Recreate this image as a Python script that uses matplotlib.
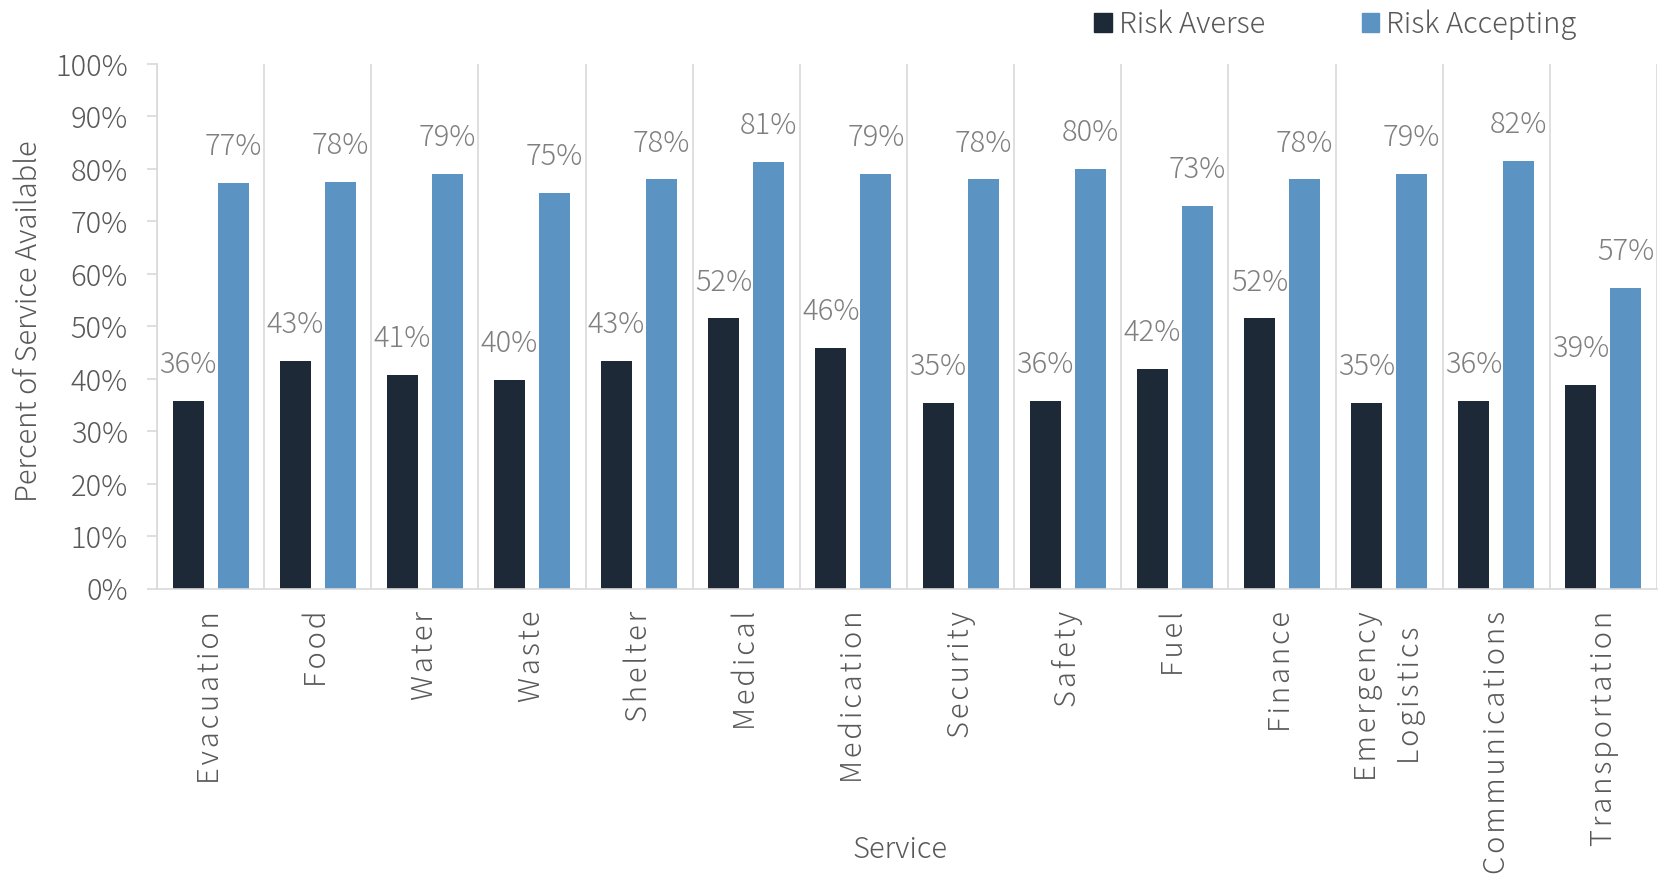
import matplotlib.pyplot as plt
import numpy as np
import matplotlib.patches as mpatches

plt.rcParams['font.family'] = ['Noto Sans CJK JP', 'DejaVu Sans']
plt.rcParams['font.weight'] = 'light'
plt.rcParams['axes.labelweight'] = 'light'

services = ['Evacuation', 'Food', 'Water', 'Waste', 'Shelter', 'Medical',
            'Medication', 'Security', 'Safety', 'Fuel', 'Finance',
            'Emergency\nLogistics', 'Communications', 'Transportation']
risk_averse = [35.8, 43.4, 40.8, 39.8, 43.4, 51.5, 45.9,
               35.4, 35.8, 41.9, 51.5, 35.4, 35.8, 38.9]
risk_accepting = [77.4, 77.5, 79.0, 75.4, 78.0, 81.4, 79.0,
                  78.0, 80.0, 72.9, 78.0, 79.0, 81.5, 57.4]
labels = ['Risk Averse', 'Risk Accepting']
colors = ['#1d2937', '#5b93c3']

GRID = '#d9d9d9'
TXT = '#595959'
LBL = '#7f7f7f'
FS = 21


def spaced(s):
    # open up the letters a little, line by line
    hair = '\u200a'
    return '\n'.join(hair.join(line) for line in s.split('\n'))


def main():
    fig = plt.figure(figsize=(16.61, 8.8), dpi=100)
    ax = fig.add_axes([0.0945, 0.331, 0.9031, 0.5963])

    x = np.arange(len(services))
    off, w = 0.21, 0.29
    b1 = ax.bar(x - off, risk_averse, w, color=colors[0])
    b2 = ax.bar(x + off, risk_accepting, w, color=colors[1])

    for bars, vals in ((b1, risk_averse), (b2, risk_accepting)):
        for rect, v in zip(bars, vals):
            ax.annotate(f'{v:.0f}%', (rect.get_x() + rect.get_width() / 2, v),
                        xytext=(0, 15), textcoords='offset points',
                        ha='center', va='bottom', fontsize=FS, color=LBL)

    # category separators
    for b in np.arange(len(services) + 1) - 0.5:
        ax.axvline(b, color=GRID, lw=1.2, zorder=0)

    ax.set_xlim(-0.5, len(services) - 0.5)
    ax.set_ylim(0, 100)
    ax.set_yticks(np.arange(0, 101, 10))
    ax.set_yticklabels([f'{t}%' for t in range(0, 101, 10)])
    ax.set_xticks(x)
    ax.set_xticklabels([spaced(s) for s in services], rotation=90,
                       multialignment='center', linespacing=1.5)

    for s in ['top', 'right']:
        ax.spines[s].set_visible(False)
    for s in ['left', 'bottom']:
        ax.spines[s].set_color(GRID)
        ax.spines[s].set_linewidth(1.2)
    ax.tick_params(axis='y', colors=GRID, labelcolor=TXT, length=7,
                   width=1.2, pad=14, labelsize=FS)
    ax.tick_params(axis='x', length=0, pad=16, labelcolor=TXT, labelsize=FS)

    ax.set_ylabel('Percent of Service Available', fontsize=FS, color=TXT,
                  fontweight='light')
    ax.yaxis.set_label_coords(-0.075, 0.51)
    ax.set_xlabel('Service', fontsize=FS, color=TXT, fontweight='light')
    ax.xaxis.set_label_coords(0.495, -0.469)

    patch0 = mpatches.Patch(color=colors[0], label=labels[0])
    patch1 = mpatches.Patch(color=colors[1], label=labels[1])
    leg = ax.legend(handles=[patch0, patch1], ncol=2, frameon=False,
                    loc='center', bbox_to_anchor=(0.804, 0.972),
                    bbox_transform=fig.transFigure, fontsize=FS,
                    handlelength=0.6, handleheight=0.6, handletextpad=0.25,
                    columnspacing=3.3)
    for t in leg.get_texts():
        t.set_color(TXT)

    plt.savefig('out.png', dpi=100)


if __name__ == "__main__":
    main()
